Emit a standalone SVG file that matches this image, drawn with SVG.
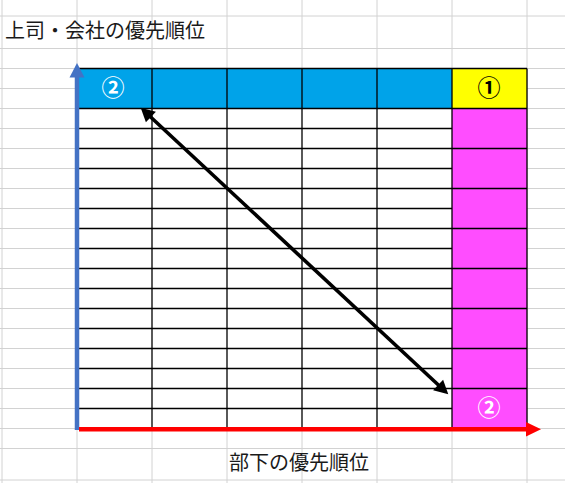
<svg xmlns="http://www.w3.org/2000/svg" width="565" height="483" viewBox="0 0 565 483">
<style>
.g{stroke:#D2D2D2;stroke-width:1;fill:none}
.b{stroke:#000;stroke-width:1.3;fill:none}
.t{font-family:"Noto Sans CJK JP","Noto Sans",sans-serif;font-size:20px;fill:#1a1a1a}
.n{font-family:"Noto Sans CJK JP","Noto Sans",sans-serif;font-size:23px;font-weight:bold;text-anchor:middle}
</style>
<rect width="565" height="483" fill="#fff"/>
<g id="sheet-grid">
<path class="g" d="M2,0V483M77,0V483M152,0V483M227,0V483M302,0V483M377,0V483M452,0V483M527,0V483"/>
<path class="g" d="M0,16H565M0,48.5H565M0,68.5H565M0,88.5H565M0,108.5H565M0,128.5H565M0,148.5H565M0,168.5H565M0,188.5H565M0,208.5H565M0,228.5H565M0,248.5H565M0,268.5H565M0,288.5H565M0,308.5H565M0,328.5H565M0,348.5H565M0,368.5H565M0,388.5H565M0,408.5H565M0,428.5H565M0,448.5H565M0,480H565"/>
</g>
<g id="table">
<rect x="77" y="68.5" width="450" height="360" fill="#fff"/>
<rect x="77" y="68.5" width="375" height="40" fill="#00A3E9"/>
<rect x="452" y="68.5" width="75" height="40" fill="#FFFF00"/>
<rect x="452" y="108.5" width="75" height="320" fill="#FF4DFF"/>
<path class="b" d="M77,68.5H527M77,108.5H527M77,128.5H452M77,148.5H527M77,168.5H452M77,188.5H527M77,208.5H452M77,228.5H527M77,248.5H452M77,268.5H527M77,288.5H452M77,308.5H527M77,328.5H452M77,348.5H527M77,368.5H452M77,388.5H527M77,408.5H452M77,428.5H527"/>
<path class="b" d="M152,68.5V428.5M227,68.5V428.5M302,68.5V428.5M377,68.5V428.5M452,68.5V428.5M527,68.5V428.5"/>
</g>
<g id="cell-boss-2"><text class="n" x="113" y="96" fill="#fff">②</text></g>
<g id="cell-both-1"><text class="n" x="489" y="96" fill="#000">①</text></g>
<g id="cell-sub-2"><text class="n" x="489" y="416" fill="#fff">②</text></g>
<g id="title"><text class="t" x="5" y="38">上司・会社の優先順位</text></g>
<g id="xlabel"><text class="t" x="229" y="470">部下の優先順位</text></g>
<g id="connectors">
<path d="M77,76V430" stroke="#4472C4" stroke-width="4.5"/>
<polygon points="77,63 69.5,77.5 84.5,77.5" fill="#4472C4"/>
<path d="M79,429.3H527" stroke="#FF0000" stroke-width="4.5"/>
<polygon points="541,429.3 526,422 526,436.5" fill="#FF0000"/>
<path d="M149,115.5L440,386.5" stroke="#000" stroke-width="3.6"/>
<polygon points="140.7,107.7 145.9,122.3 155.9,111.7" fill="#000"/>
<polygon points="448.3,394.3 433.1,390.3 443.1,379.7" fill="#000"/>
</g>
</svg>
